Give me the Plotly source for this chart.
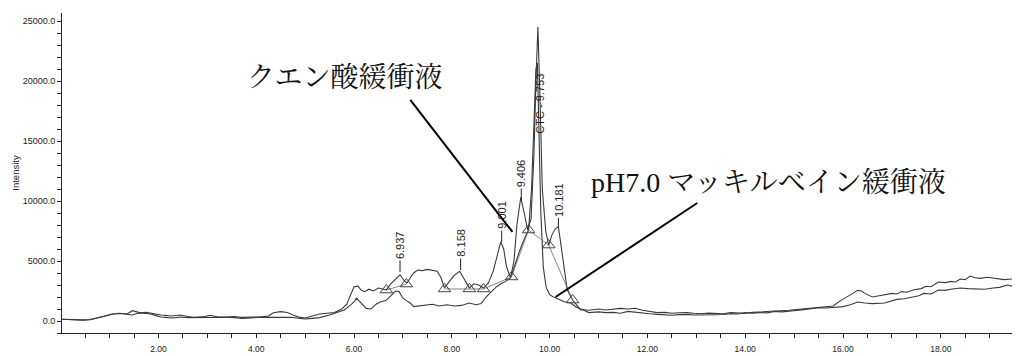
import plotly.graph_objects as go

# ---- data (retention time in min, intensity) ----
upper_t = [0.03, 0.15, 0.3, 0.45, 0.6, 0.75, 0.9, 1.05, 1.2, 1.3, 1.37, 1.47, 1.55, 1.63, 1.75, 1.84, 1.95, 2.05,
           2.15, 2.25, 2.35, 2.45, 2.6, 2.72, 2.9, 3.06, 3.2, 3.4, 3.55, 3.7, 3.9, 4.1, 4.25, 4.35, 4.5, 4.64,
           4.76, 4.9, 5.0, 5.15, 5.3, 5.45, 5.6, 5.75, 5.85, 5.93, 6.0, 6.08, 6.15, 6.22, 6.3, 6.4, 6.5, 6.6,
           6.66, 6.75, 6.85, 6.94, 7.02, 7.08, 7.15, 7.22, 7.3, 7.4, 7.5, 7.6, 7.7, 7.78, 7.85, 7.95, 8.05,
           8.16, 8.25, 8.36, 8.45, 8.55, 8.65, 8.75, 8.85, 8.93, 9.0, 9.06, 9.12, 9.2, 9.27, 9.33, 9.41, 9.48,
           9.55, 9.62, 9.68, 9.72, 9.76, 9.8, 9.85, 9.92, 9.98, 10.05, 10.12, 10.18, 10.24, 10.3, 10.36, 10.47,
           10.63, 10.8, 11.0, 11.15, 11.3, 11.45, 11.6, 11.75, 11.9, 12.05, 12.2, 12.35, 12.5, 12.65, 12.8,
           12.95, 13.1, 13.25, 13.4, 13.55, 13.7, 13.85, 14.0, 14.15, 14.3, 14.45, 14.6, 14.75, 14.9, 15.05,
           15.2, 15.35, 15.5, 15.65, 15.8, 15.95, 16.1, 16.2, 16.3, 16.38, 16.45, 16.6, 16.8, 17.0, 17.1, 17.2,
           17.3, 17.45, 17.6, 17.7, 17.8, 17.95, 18.1, 18.2, 18.3, 18.4, 18.5, 18.6, 18.7, 18.8, 18.95, 19.07,
           19.2, 19.3, 19.45, 19.62]
upper_i = [150, 130, 100, 90, 120, 250, 420, 580, 650, 600, 620, 860, 780, 680, 720, 640, 560, 500,
           470, 420, 460, 500, 380, 300, 340, 480, 360, 330, 380, 300, 320, 330, 420, 690, 780, 710,
           480, 300, 250, 400, 580, 640, 700, 1000, 1400, 2200, 2850, 2900, 2550, 2450, 2650, 2500, 2750, 2650,
           2600, 3100, 3500, 3850, 3400, 3150, 3600, 4000, 4250, 4200, 4300, 4250, 4150, 3600, 2750, 3300, 3800,
           4150, 3500, 2750, 3100, 3000, 2750, 3200, 4200, 5400, 6600, 6000, 4500, 3600, 5000, 8000, 10300, 9000,
           7600, 8500, 14000, 20000, 24500, 19000, 11000, 7500, 6300, 7200, 7700, 7850, 6000, 4200, 2600, 1750,
           950, 900, 1000, 920, 960, 1050, 1000, 1060, 900, 780, 700, 720, 650, 690, 700,
           640, 600, 660, 650, 610, 700, 660, 650, 720, 750, 800, 850, 820, 900, 950,
           1000, 1050, 1150, 1200, 1250, 1700, 2100, 2300, 2550, 2500, 2300, 2000, 2150, 2300, 2250, 2450,
           2400, 2600, 2700, 2900, 2850, 3250, 3200, 3300, 3250, 3500, 3450, 3750, 3600, 3550, 3650, 3600,
           3500, 3450, 3500, 3420]

lower_t = [0.03, 0.15, 0.3, 0.45, 0.6, 0.75, 0.9, 1.05, 1.2, 1.3, 1.37, 1.47, 1.55, 1.63, 1.75, 1.84, 1.95, 2.05,
           2.15, 2.25, 2.35, 2.45, 2.6, 2.72, 2.9, 3.06, 3.2, 3.4, 3.55, 3.7, 3.9, 4.1, 4.3, 4.5, 4.7, 4.9,
           5.0, 5.15, 5.3, 5.5, 5.65, 5.8, 5.92, 6.0, 6.05, 6.12, 6.25, 6.35, 6.45, 6.55, 6.65, 6.75, 6.85,
           6.92, 7.0, 7.07, 7.15, 7.22, 7.3, 7.45, 7.6, 7.75, 7.9, 8.05, 8.2, 8.35, 8.5, 8.6, 8.7, 8.8, 8.9,
           9.0, 9.1, 9.2, 9.3, 9.4, 9.5, 9.57, 9.63, 9.68, 9.72, 9.75, 9.78, 9.82, 9.87, 9.93, 10.0, 10.08,
           10.2, 10.3, 10.43, 10.55, 10.69, 10.8, 11.0, 11.15, 11.3, 11.45, 11.6, 11.75, 11.9, 12.05, 12.2,
           12.35, 12.5, 12.65, 12.8, 12.95, 13.1, 13.25, 13.4, 13.55, 13.7, 13.85, 14.0, 14.15, 14.3, 14.45,
           14.6, 14.75, 14.9, 15.05, 15.2, 15.35, 15.5, 15.65, 15.8, 16.0, 16.15, 16.3, 16.45, 16.6, 16.85,
           17.1, 17.25, 17.4, 17.55, 17.65, 17.8, 17.95, 18.1, 18.2, 18.4, 18.55, 18.7, 18.9, 19.07, 19.2,
           19.36, 19.5, 19.62]
lower_i = [150, 120, 80, 60, 100, 220, 400, 560, 620, 580, 560, 500, 620, 680, 620, 580, 450, 330,
           300, 250, 280, 330, 280, 290, 330, 300, 350, 310, 280, 210, 260, 320, 300, 290, 310, 220,
           170, 220, 280, 500, 700, 920, 1300, 1600, 1900, 1600, 1050, 1000, 1400, 1600, 1700, 2100, 2500,
           2450, 1900, 1700, 1500, 1200, 1250, 1350, 1400, 1250, 1350, 1250, 1300, 1500, 1350, 1450, 2000, 2400, 2800,
           3100, 3300, 3600, 4800, 6000, 7000, 7600, 11000, 16000, 21000, 21500, 17000, 9000, 4500, 2800, 2200, 2000,
           1800, 1600, 1500, 1150, 920, 700, 760, 700, 720, 650, 800, 720, 650, 600, 550,
           520, 480, 530, 550, 500, 500, 470, 520, 540, 600, 580, 700, 650, 700, 680,
           800, 760, 850, 880, 950, 1000, 1100, 1080, 1150, 1200, 1350, 1580, 1500, 1450, 1500,
           1800, 1850, 2000, 2100, 2300, 2250, 2580, 2550, 2650, 2750, 2700, 2700, 2650, 2750, 2800,
           3000, 2850, 2750]

# peak start / end markers (triangles)
marker_t = [6.66, 7.07, 7.85, 8.36, 8.65, 9.22, 9.57, 9.98, 10.47]
marker_i = [2580, 3080, 2670, 2670, 2670, 3670, 7580, 6330, 1750]

# peak labels
peak_labels = ["6.937", "8.158", "9.001", "9.406", "10.181"]
peak_t = [6.94, 8.18, 9.02, 9.42, 10.18]
peak_i = [4080, 4250, 6580, 10080, 7750]

main_label = "CTC - 9.753"
main_t = 9.8
main_i = 18100

# buffer call-outs: text position and pointer (start -> end)
buffer_names = ["クエン酸緩衝液", "pH7.0 マッキルベイン緩衝液"]
buffer_text_t = [5.80, 14.47]
buffer_text_i = [20300, 11550]
pointer_t0 = [7.15, 13.02]
pointer_i0 = [18420, 9830]
pointer_t1 = [9.24, 10.12]
pointer_i1 = [7420, 2000]

line_color = "#3a3a3a"

fig = go.Figure()
fig.add_trace(go.Scatter(x=upper_t, y=upper_i, mode="lines",
                         line=dict(color=line_color, width=1.1), showlegend=False, hoverinfo="skip"))
fig.add_trace(go.Scatter(x=lower_t, y=lower_i, mode="lines",
                         line=dict(color=line_color, width=1.1), showlegend=False, hoverinfo="skip"))

# baselines between peak markers
base_x = marker_t[0:2] + [None] + marker_t[2:]
base_y = marker_i[0:2] + [None] + marker_i[2:]
fig.add_trace(go.Scatter(x=base_x, y=base_y, mode="lines",
                         line=dict(color="#666666", width=0.8), showlegend=False, hoverinfo="skip"))
fig.add_trace(go.Scatter(x=marker_t, y=marker_i, mode="markers",
                         marker=dict(symbol="triangle-up-open", size=11, color="#444444",
                                     line=dict(width=1, color="#444444")),
                         showlegend=False, hoverinfo="skip"))

label_font = dict(family="Liberation Sans, Arial, sans-serif", size=11, color="#222222")
for lab, t, v in zip(peak_labels, peak_t, peak_i):
    fig.add_annotation(x=t, y=v, text=lab, textangle=-90, showarrow=True, arrowhead=0,
                       arrowwidth=1, arrowcolor="#222222", ax=0, ay=-27 - 1.5 * (len(lab) - 5),
                       font=label_font)
fig.add_annotation(x=main_t, y=main_i, text=main_label, textangle=-90, showarrow=False,
                   font=label_font, bgcolor="rgba(255,255,255,0)")

callout_font = dict(family="Liberation Serif, Noto Serif CJK JP, Noto Sans CJK JP, serif",
                    size=28, color="#111111")
for name, tx, ty in zip(buffer_names, buffer_text_t, buffer_text_i):
    fig.add_annotation(x=tx, y=ty, text=name, showarrow=False, font=callout_font,
                       xanchor="center", yanchor="middle")
for x0, y0, x1, y1 in zip(pointer_t0, pointer_i0, pointer_t1, pointer_i1):
    fig.add_shape(type="line", x0=x0, y0=y0, x1=x1, y1=y1, xref="x", yref="y",
                  line=dict(color="#000000", width=2))

# the page body adds an 8 px offset; the figure is sized to fill the 1020x356 window exactly
tick_font = dict(family="Liberation Sans, Arial, sans-serif", size=9, color="#222222")
fig.update_layout(
    width=1012, height=348,
    margin=dict(l=54, r=0, t=5, b=23),
    paper_bgcolor="white", plot_bgcolor="white",
    xaxis=dict(range=[0.027, 19.62], showline=True, linecolor="#222222", linewidth=1,
               ticks="outside", ticklen=4, tickcolor="#222222", dtick=2, tick0=0,
               tickformat=".2f", tickfont=dict(family=tick_font["family"], size=8.5, color="#222222"),
               ticklabelstandoff=4,
               minor=dict(dtick=0.5, tick0=0, ticks="outside", ticklen=4, tickcolor="#222222"),
               showgrid=False, zeroline=False),
    yaxis=dict(range=[-1000, 25667], showline=True, linecolor="#222222", linewidth=1,
               ticks="outside", ticklen=4, tickcolor="#222222", dtick=5000, tick0=0,
               tickformat=".1f", tickfont=tick_font,
               minor=dict(dtick=1000, tick0=0, ticks="outside", ticklen=4, tickcolor="#222222"),
               showgrid=False, zeroline=False,
               title=dict(text="Intensity", standoff=1,
                          font=dict(family=tick_font["family"], size=9.5, color="#222222"))),
)

fig.write_html("out.html")
